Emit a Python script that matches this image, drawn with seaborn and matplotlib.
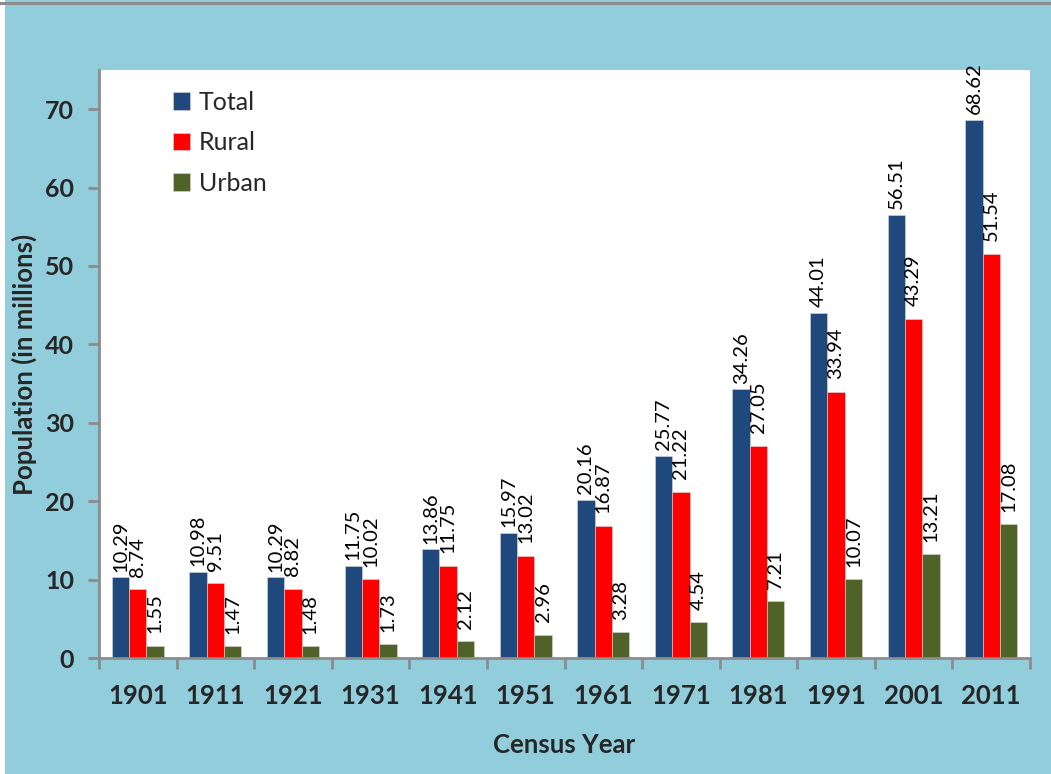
import matplotlib
matplotlib.use("Agg")
from matplotlib import pyplot as plt
from matplotlib.patches import Rectangle
import seaborn as sns
import pandas as pd

years = ["1901", "1911", "1921", "1931", "1941", "1951",
         "1961", "1971", "1981", "1991", "2001", "2011"]
total = [10.29, 10.98, 10.29, 11.75, 13.86, 15.97, 20.16, 25.77, 34.26, 44.01, 56.51, 68.62]
rural = [8.74, 9.51, 8.82, 10.02, 11.75, 13.02, 16.87, 21.22, 27.05, 33.94, 43.29, 51.54]
urban = [1.55, 1.47, 1.48, 1.73, 2.12, 2.96, 3.28, 4.54, 7.21, 10.07, 13.21, 17.08]
series = ["Total", "Rural", "Urban"]
colors = ["#1F497D", "#FF0000", "#4F6228"]

df = pd.DataFrame({
    "Year": years * 3,
    "Series": ["Total"] * 12 + ["Rural"] * 12 + ["Urban"] * 12,
    "Population": total + rural + urban,
})

sns.set_style("white")
plt.rcParams['font.family'] = ['Lato', 'DejaVu Sans']

bg = "#92CDDC"
grey = "#8C8C8C"
fig = plt.figure(figsize=(10.51, 7.74), dpi=100, facecolor=bg)
fig.patches.append(Rectangle((0, 0), 5 / 1051, 1, transform=fig.transFigure,
                             facecolor="white", edgecolor="none", zorder=0))
fig.patches.append(Rectangle((0, 1 - 5 / 774), 1, 2.5 / 774, transform=fig.transFigure,
                             facecolor=grey, edgecolor="none", zorder=0))

ax = fig.add_axes([99 / 1051, 1 - 658 / 774, 931 / 1051, 588 / 774])
ax.set_facecolor("white")

sns.barplot(data=df, x="Year", y="Population", hue="Series", hue_order=series,
            palette=colors, width=0.67, gap=0, saturation=1, ax=ax,
            edgecolor="#D9D9D9", linewidth=0.4, legend=True)

# label gaps differ a little per series in the original
for cont, pad in zip(ax.containers, [4, 9, 9]):
    labels = ["%.2f" % b.get_height() for b in cont]
    ax.bar_label(cont, labels=labels, rotation=90, padding=pad, fontsize=14.5, color="black")

ax.set_ylim(0, 75)
ax.set_xlim(-0.5, 11.5)
ax.set_yticks(range(0, 80, 10))
ax.set_xticks(range(12))
ax.set_xticks([i - 0.5 for i in range(13)], minor=True)
ax.tick_params(axis="x", which="major", length=0, pad=19, labelsize=18.5)
ax.tick_params(axis="x", which="minor", length=8, width=2, color=grey, direction="out")
ax.tick_params(axis="y", length=8, width=2, color=grey, direction="out", labelsize=18, pad=10)
ax.tick_params(left=True, bottom=True, which="both")
for lab in ax.get_xticklabels() + ax.get_yticklabels():
    lab.set_fontweight("bold")

for s in ["top", "right"]:
    ax.spines[s].set_visible(False)
for s in ["left", "bottom"]:
    ax.spines[s].set_color(grey)
    ax.spines[s].set_linewidth(2)

ax.set_xlabel("Census Year", fontsize=18.5, fontweight="bold", labelpad=18)
ax.set_ylabel("Population (in millions)", fontsize=18.5, fontweight="bold", labelpad=6)

ax.legend(title=None, loc="upper left", bbox_to_anchor=(0.055, 1.003), frameon=False,
          fontsize=18, handlelength=0.7, handleheight=0.7, handletextpad=0.35,
          labelspacing=0.7)

fig.savefig("out.png", dpi=100, facecolor=bg)
